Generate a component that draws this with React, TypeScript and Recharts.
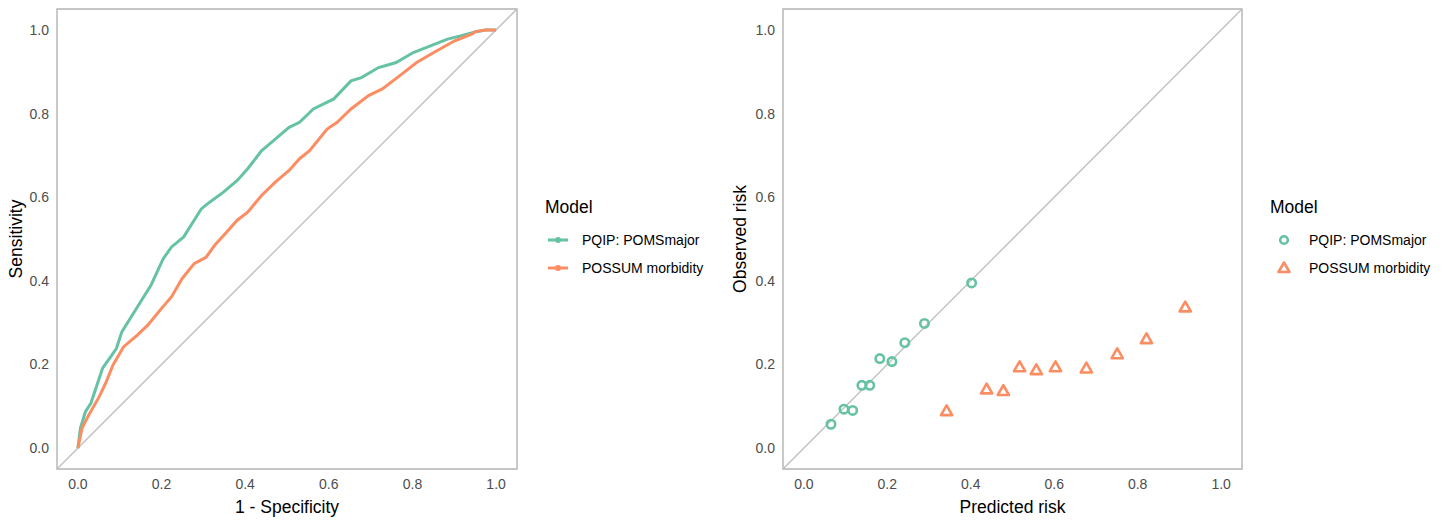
import React from 'react';
import {
  ScatterChart,
  Scatter,
  XAxis,
  YAxis,
  ReferenceLine,
  ReferenceArea,
  Label,
} from 'recharts';

const GREEN = '#66C2A5';
const ORANGE = '#FC8D62';
const FONT = '"Liberation Sans", Arial, Helvetica, sans-serif';

const modelNames = ['PQIP: POMSmajor', 'POSSUM morbidity'];
const axisTicks = [0, 0.2, 0.4, 0.6, 0.8, 1.0];

// ROC curves (1 - specificity, sensitivity)
const pqipFpr = [0, 0.006, 0.018, 0.031, 0.051, 0.059, 0.076, 0.092, 0.105, 0.125, 0.15, 0.175, 0.204, 0.224, 0.253, 0.278, 0.295, 0.315, 0.348, 0.381, 0.406, 0.439, 0.472, 0.505, 0.53, 0.563, 0.612, 0.653, 0.678, 0.719, 0.761, 0.802, 0.843, 0.884, 0.917, 0.95, 0.975, 1.0];
const pqipTpr = [0, 0.048, 0.087, 0.107, 0.167, 0.191, 0.215, 0.238, 0.278, 0.31, 0.35, 0.39, 0.453, 0.481, 0.505, 0.545, 0.572, 0.588, 0.612, 0.64, 0.668, 0.711, 0.739, 0.767, 0.779, 0.811, 0.835, 0.878, 0.886, 0.91, 0.922, 0.946, 0.962, 0.978, 0.986, 0.995, 1.0, 1.0];

const possumFpr = [0, 0.01, 0.026, 0.051, 0.068, 0.084, 0.109, 0.142, 0.167, 0.2, 0.224, 0.249, 0.278, 0.307, 0.327, 0.356, 0.381, 0.406, 0.439, 0.472, 0.505, 0.53, 0.554, 0.596, 0.62, 0.653, 0.695, 0.728, 0.769, 0.81, 0.851, 0.901, 0.942, 0.95, 0.975, 1.0];
const possumTpr = [0, 0.048, 0.079, 0.123, 0.159, 0.199, 0.242, 0.27, 0.294, 0.334, 0.362, 0.405, 0.441, 0.457, 0.485, 0.517, 0.545, 0.564, 0.604, 0.636, 0.664, 0.692, 0.711, 0.763, 0.779, 0.811, 0.843, 0.859, 0.89, 0.922, 0.946, 0.974, 0.99, 0.996, 1.0, 1.0];

// calibration (predicted risk, observed risk)
const pqipPredicted = [0.065, 0.096, 0.117, 0.139, 0.158, 0.182, 0.211, 0.242, 0.289, 0.402];
const pqipObserved = [0.057, 0.093, 0.09, 0.15, 0.15, 0.214, 0.207, 0.252, 0.298, 0.395];
const possumPredicted = [0.342, 0.438, 0.478, 0.517, 0.557, 0.603, 0.677, 0.751, 0.821, 0.914];
const possumObserved = [0.088, 0.14, 0.136, 0.193, 0.186, 0.193, 0.19, 0.224, 0.26, 0.336];

const zip = (xs: number[], ys: number[]) => xs.map((x, i) => ({ x, y: ys[i] }));

const pqipRoc = zip(pqipFpr, pqipTpr);
const possumRoc = zip(possumFpr, possumTpr);
const pqipCal = zip(pqipPredicted, pqipObserved);
const possumCal = zip(possumPredicted, possumObserved);

const DOMAIN: [number, number] = [-0.05, 1.05];
const tickStyle = { fill: '#4D4D4D', fontSize: 14, fontFamily: FONT };

const YTitle = (props: any) => {
  const { viewBox, value, dx } = props;
  const cx = viewBox.x + dx;
  const cy = viewBox.y + viewBox.height / 2;
  return (
    <text
      x={cx}
      y={cy}
      transform={`rotate(-90 ${cx} ${cy})`}
      textAnchor="middle"
      dominantBaseline="central"
      fill="#000"
      fontSize={17.5}
      fontFamily={FONT}
    >
      {value}
    </text>
  );
};

// legends live outside the charts so they don't eat plot space
const LegendBox = ({ kind, left }: { kind: 'line' | 'point'; left: number }) => (
  <div style={{ position: 'absolute', left, top: 197, fontFamily: FONT, color: '#000' }}>
    <div style={{ fontSize: 17.5, marginBottom: 8 }}>Model</div>
    {modelNames.map((name, i) => {
      const c = i === 0 ? GREEN : ORANGE;
      return (
        <div key={name} style={{ display: 'flex', alignItems: 'center', height: 28 }}>
          {kind === 'line' ? (
            <svg width={36} height={12}>
              <line x1={3} y1={6} x2={23} y2={6} stroke={c} strokeWidth={3} />
              <circle cx={13} cy={6} r={3} fill={c} />
            </svg>
          ) : (
            <svg width={38} height={16}>
              {i === 0 ? (
                <circle cx={14} cy={8} r={3.8} fill="none" stroke={c} strokeWidth={2.6} />
              ) : (
                <polygon points="14,2.5 19.5,12 8.5,12" fill="none" stroke={c} strokeWidth={2.6} strokeLinejoin="round" />
              )}
            </svg>
          )}
          <span style={{ fontSize: 14, marginLeft: 1 }}>{name}</span>
        </div>
      );
    })}
  </div>
);

const Circle = (props: any) => (
  <circle cx={props.cx} cy={props.cy} r={4.2} fill="none" stroke={GREEN} strokeWidth={2.6} />
);

const Triangle = (props: any) => {
  const { cx, cy } = props;
  const pts = `${cx},${cy - 6} ${cx + 5.6},${cy + 3.8} ${cx - 5.6},${cy + 3.8}`;
  return <polygon points={pts} fill="none" stroke={ORANGE} strokeWidth={2.6} strokeLinejoin="round" />;
};

const Empty = () => <g />;

const Panel = ({ left, width, marginLeft, marginRight, xTitle, yTitle, yTitleDx, children }: any) => (
  <div style={{ position: 'absolute', left, top: 0 }}>
    <ScatterChart
      width={width}
      height={520}
      margin={{ top: 9, right: marginRight, bottom: 0, left: marginLeft }}
    >
      <XAxis
        type="number"
        dataKey="x"
        domain={DOMAIN}
        ticks={axisTicks}
        tickFormatter={(v: number) => v.toFixed(1)}
        axisLine={false}
        tickLine={false}
        tickMargin={4}
        tick={tickStyle}
        height={51}
        allowDataOverflow
      >
        <Label
          value={xTitle}
          position="insideBottom"
          offset={7}
          style={{ fontSize: 17.5, fontFamily: FONT, fill: '#000' }}
        />
      </XAxis>
      <YAxis
        type="number"
        dataKey="y"
        domain={DOMAIN}
        ticks={axisTicks}
        tickFormatter={(v: number) => v.toFixed(1)}
        axisLine={false}
        tickLine={false}
        tickMargin={2}
        tick={tickStyle}
        width={57}
        allowDataOverflow
      >
        <Label value={yTitle} content={(p: any) => <YTitle {...p} value={yTitle} dx={yTitleDx} />} />
      </YAxis>
      <ReferenceLine
        segment={[
          { x: -0.05, y: -0.05 },
          { x: 1.05, y: 1.05 },
        ]}
        stroke="#BEBEBE"
        strokeWidth={1.3}
        ifOverflow="visible"
      />
      {children}
      <ReferenceArea
        x1={-0.05}
        x2={1.05}
        y1={-0.05}
        y2={1.05}
        fill="none"
        fillOpacity={0}
        stroke="#B3B3B3"
        strokeWidth={1.4}
        ifOverflow="visible"
      />
    </ScatterChart>
  </div>
);

export default function App() {
  return (
    <div style={{ position: 'absolute', left: 0, top: 0, width: 1451, height: 520, background: '#fff' }}>
      <Panel
        left={0}
        width={720}
        marginLeft={0}
        marginRight={203}
        xTitle="1 - Specificity"
        yTitle="Sensitivity"
        yTitleDx={16}
      >
        <Scatter
          name={modelNames[0]}
          data={pqipRoc}
          fill={GREEN}
          line={{ stroke: GREEN, strokeWidth: 3 }}
          shape={Empty}
          isAnimationActive={false}
        />
        <Scatter
          name={modelNames[1]}
          data={possumRoc}
          fill={ORANGE}
          line={{ stroke: ORANGE, strokeWidth: 3 }}
          shape={Empty}
          isAnimationActive={false}
        />
      </Panel>
      <Panel
        left={720}
        width={731}
        marginLeft={6}
        marginRight={209}
        xTitle="Predicted risk"
        yTitle="Observed risk"
        yTitleDx={14}
      >
        <Scatter name={modelNames[0]} data={pqipCal} fill={GREEN} shape={Circle} isAnimationActive={false} />
        <Scatter name={modelNames[1]} data={possumCal} fill={ORANGE} shape={Triangle} isAnimationActive={false} />
      </Panel>
      <LegendBox kind="line" left={545} />
      <LegendBox kind="point" left={1270} />
    </div>
  );
}
